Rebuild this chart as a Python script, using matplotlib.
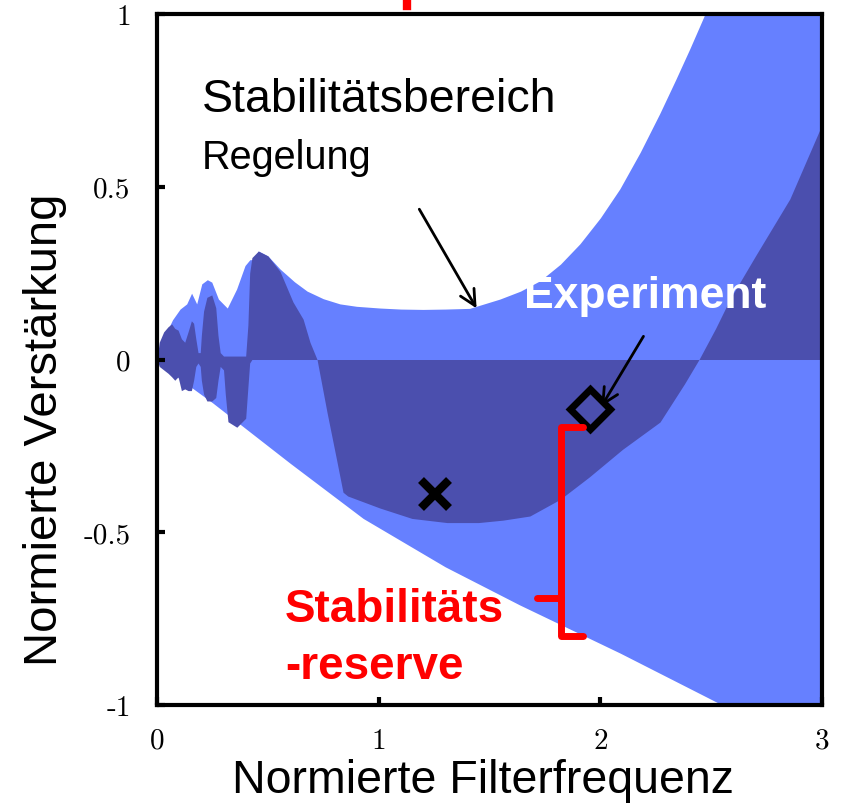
import matplotlib
matplotlib.use("Agg")
import matplotlib.pyplot as plt

# light region (stability region of the controller): lower and upper edge
light_x = [0.0, 0.036, 0.07, 0.104, 0.134, 0.156, 0.179, 0.202, 0.227, 0.247, 0.277, 0.317,
           0.359, 0.397, 0.419, 0.434, 0.457, 0.5, 0.555, 0.62, 0.677, 0.75, 0.825, 0.9,
           1.006, 1.1, 1.2, 1.3, 1.41, 1.547, 1.64, 1.728, 1.82, 1.908, 2.0, 2.088, 2.18,
           2.268, 2.34, 2.404, 2.472, 2.6, 3.0]
light_hi = [0.0, 0.07, 0.115, 0.146, 0.161, 0.192, 0.161, 0.219, 0.231, 0.224, 0.175, 0.149,
            0.204, 0.272, 0.289, 0.289, 0.314, 0.3, 0.262, 0.225, 0.198, 0.176, 0.161, 0.154,
            0.149, 0.146, 0.145, 0.146, 0.148, 0.175, 0.198, 0.228, 0.276, 0.335, 0.41, 0.494,
            0.6, 0.712, 0.81, 0.9, 1.0, 1.2, 1.8]
lower_x = [0.0, 0.1, 0.25, 0.45, 0.6, 0.93, 1.3, 1.635, 2.09, 2.55, 3.0]
lower_y = [0.0, -0.055, -0.125, -0.225, -0.3, -0.46, -0.6, -0.71, -0.85, -1.0, -1.13]

# dark region (experiment): top and bottom edge
dark_x = [0.0, 0.01, 0.03, 0.05, 0.066, 0.08, 0.095, 0.11, 0.125, 0.14, 0.155, 0.165, 0.175,
          0.185, 0.195, 0.2, 0.21, 0.225, 0.247, 0.265, 0.275, 0.285, 0.3, 0.308, 0.32, 0.36,
          0.4, 0.41, 0.418, 0.428, 0.457, 0.5, 0.555, 0.613, 0.659, 0.69, 0.722, 0.767, 0.81,
          0.839, 0.86, 1.006, 1.15, 1.308, 1.45, 1.56, 1.682, 1.818, 1.95, 2.1, 2.269, 2.38,
          2.445, 2.52, 2.585, 2.7, 2.855, 3.0]
dark_hi = [0.0, 0.05, 0.08, 0.095, 0.103, 0.09, 0.085, 0.06, 0.05, 0.08, 0.112, 0.105, 0.06,
           0.02, 0.02, 0.07, 0.14, 0.18, 0.187, 0.15, 0.07, 0.02, 0.01, 0.01, 0.01, 0.01,
           0.01, 0.1, 0.25, 0.295, 0.314, 0.3, 0.255, 0.167, 0.117, 0.05, 0.0, 0.0, 0.0,
           0.0, 0.0, 0.0, 0.0, 0.0, 0.0, 0.0, 0.0, 0.0, 0.0, 0.0, 0.0, 0.0,
           0.0, 0.09, 0.175, 0.3, 0.465, 0.68]
dark_lo = [0.0, -0.02, -0.03, -0.04, -0.05, -0.06, -0.05, -0.09, -0.085, -0.09, -0.09, -0.06, -0.02,
           -0.01, -0.02, -0.06, -0.1, -0.12, -0.12, -0.11, -0.06, -0.02, -0.03, -0.1, -0.18, -0.196,
           -0.17, -0.08, -0.01, 0.0, 0.0, 0.0, 0.0, 0.0, 0.0, 0.0, 0.0, -0.153, -0.29,
           -0.384, -0.395, -0.43, -0.46, -0.472, -0.472, -0.465, -0.453, -0.405, -0.34, -0.26, -0.181, -0.07,
           0.0, 0.0, 0.0, 0.0, 0.0, 0.0]

exp_point = (1.953, -0.143)
sim_point = (1.254, -0.39)

x_ticks = [0, 1, 2, 3]
y_ticks = [-1, -0.5, 0, 0.5, 1]
x_tick_labels = ["0", "1", "2", "3"]
y_tick_labels = ["-1", "-0.5", "0", "0.5", "1"]

light_col = "#6680ff"
dark_col = "#4b4fae"
red = "#ff0000"

fig = plt.figure(figsize=(8.41, 8.04), dpi=100)
ax = fig.add_axes([0.1867, 0.1219, 0.7907, 0.8594])

ax.fill_between(light_x, 0, light_hi, color=light_col, lw=0)
ax.fill_between(lower_x, lower_y, 0, color=light_col, lw=0)
ax.fill_between(dark_x, dark_lo, dark_hi, color=dark_col, lw=0)

ax.set_xlim(0, 3)
ax.set_ylim(-1, 1)

# markers
ax.plot(*sim_point, marker="x", ms=20, mew=6, color="black")
ax.plot(*exp_point, marker="D", ms=20, mew=5, mfc="none", mec="black")

# arrows
ax.annotate("", xy=(1.448, 0.141), xytext=(1.177, 0.442),
            arrowprops=dict(arrowstyle="->", lw=2, color="black", mutation_scale=28))
ax.annotate("", xy=(1.998, -0.143), xytext=(2.201, 0.074),
            arrowprops=dict(arrowstyle="->", lw=2, color="black", mutation_scale=28))

# texts
sans = ["Liberation Sans", "DejaVu Sans"]
ax.text(0.203, 0.755, "Stabilitätsbereich", fontsize=33.5, family=sans, va="center")
ax.text(0.203, 0.587, "Regelung", fontsize=28.5, family=sans, va="center")
ax.text(2.201, 0.184, "Experiment", fontsize=32, family=sans, weight="bold",
        color="white", ha="center", va="center")
ax.text(0.577, -0.723, "Stabilitäts", fontsize=33, family=sans, weight="bold",
        color=red, va="center")
ax.text(0.577, -0.888, "-reserve", fontsize=33, family=sans, weight="bold",
        color=red, va="center")

# red bracket for the stability reserve
bx, by_top, by_bot, by_mid = 1.822, -0.196, -0.80, -0.69
ax.plot([1.92, bx, bx, 1.92], [by_top, by_top, by_bot, by_bot], color=red, lw=5,
        solid_joinstyle="round", solid_capstyle="round")
ax.plot([1.714, bx], [by_mid, by_mid], color=red, lw=5, solid_capstyle="round")
# cut off red mark above the plot
ax.plot([1.13, 1.13], [1.022, 1.12], color=red, lw=6, clip_on=False)

# axes styling
for s in ax.spines.values():
    s.set_linewidth(3)
ax.tick_params(direction="in", length=6, width=3)
ax.set_xticks(x_ticks)
ax.set_xticklabels(x_tick_labels, family="cmr10", fontsize=21)
ax.set_yticks(y_ticks)
ax.set_yticklabels(y_tick_labels, family="cmr10", fontsize=21)
ax.tick_params(axis="x", pad=16)
ax.tick_params(axis="y", pad=19)

ax.set_xlabel("Normierte Filterfrequenz", fontsize=33.5, family=sans, va="center")
ax.set_ylabel("Normierte Verstärkung", fontsize=34, family=sans, va="center")
ax.xaxis.set_label_coords(0.49, -0.109)
ax.yaxis.set_label_coords(-0.168, 0.4)

fig.savefig("out.png", dpi=100)
